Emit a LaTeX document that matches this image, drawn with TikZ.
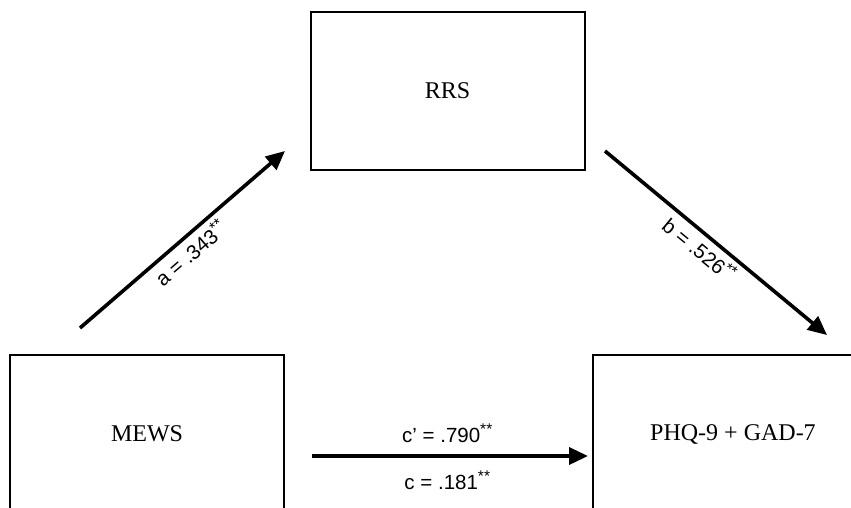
\documentclass[tikz,border=0pt]{standalone}
\usepackage{fontspec}
\setmainfont{Liberation Serif}
\newfontfamily\labelfont{Liberation Sans}
\usetikzlibrary{arrows.meta}

% significance stars, raised and a little smaller
\newcommand{\sigstars}{\raisebox{0.36em}{\fontsize{15.5}{15.5}\selectfont **}}

\tikzset{
  varbox/.style={draw=black, line width=2pt, minimum width=274pt, minimum height=158pt,
    inner sep=0pt, font=\fontsize{24}{28}\selectfont},
  patharrow/.style={line width=3.6pt, -{Triangle[length=19pt,width=17pt]}},
  coef/.style={font=\labelfont\fontsize{20.5}{24}\selectfont, inner sep=4pt},
}

\begin{document}
\begin{tikzpicture}[x=1pt, y=-1pt]
  \useasboundingbox (0,0) rectangle (851,507);
  \clip (0,0) rectangle (851,507);

  % variables
  \node[varbox] (rrs)  at (447.5,91)  {RRS};
  \node[varbox] (mews) at (147,434)   {MEWS};
  \node[varbox, minimum width=280pt] (phq) at (733,434) {PHQ-9 + GAD-7};

  % free ends of the path arrows
  \coordinate (a0) at (80,328);
  \coordinate (a1) at (285,151);
  \coordinate (b0) at (605,151);
  \coordinate (b1) at (827,335);
  \coordinate (c0) at (312,456);
  \coordinate (c1) at (588,456);

  % paths with coefficients
  \draw[patharrow] (a0) -- (a1)
    node[coef, pos=0.49, sloped, below] {a = .343\sigstars};
  \draw[patharrow] (b0) -- (b1)
    node[coef, pos=0.47, sloped, below] {b = .526\sigstars};
  \draw[patharrow] (c0) -- (c1)
    node[coef, pos=0.49, anchor=base, yshift=14pt] {c’ = .790\sigstars}
    node[coef, pos=0.49, anchor=base, yshift=-33pt] {c = .181\sigstars};
\end{tikzpicture}
\end{document}
